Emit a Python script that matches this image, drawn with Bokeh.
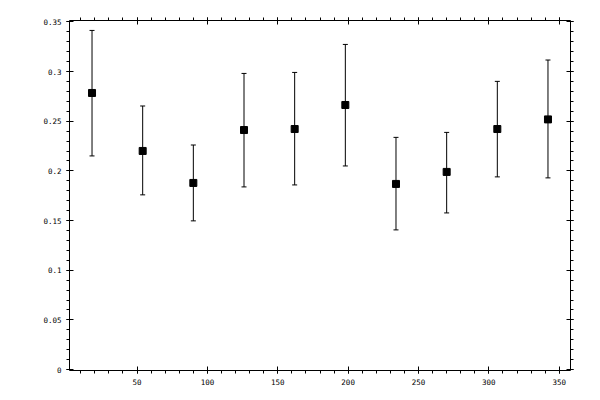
from bokeh.plotting import figure
from bokeh.models import (ColumnDataSource, Range1d, LinearAxis, SingleIntervalTicker,
                          CustomJSTickFormatter, Whisker, TeeHead)
from bokeh.embed import file_html
from bokeh.resources import INLINE

angle = [18, 54, 90, 126, 162, 198, 234, 270, 306, 342]
value = [0.2785, 0.2201, 0.1879, 0.2412, 0.2422, 0.2664, 0.1869, 0.1990, 0.2422, 0.2519]
upper = [0.3415, 0.2654, 0.2261, 0.2982, 0.2992, 0.3274, 0.2338, 0.2388, 0.2902, 0.3117]
lower = [0.2151, 0.1759, 0.1497, 0.1839, 0.1859, 0.2050, 0.1406, 0.1577, 0.1940, 0.1930]

src = ColumnDataSource(data=dict(x=angle, y=value, upper=upper, lower=lower))

p = figure(width=592, height=392, output_backend="svg", toolbar_location=None,
           x_range=Range1d(2, 358), y_range=Range1d(-0.001, 0.3515),
           min_border_left=69, min_border_right=22, min_border_top=20, min_border_bottom=22)
p.xgrid.visible = False
p.ygrid.visible = False
p.outline_line_color = None
p.background_fill_color = "white"
p.border_fill_color = "white"

label_fmt = CustomJSTickFormatter(code="return String(parseFloat(tick.toFixed(2)))")
blank_fmt = CustomJSTickFormatter(code="return ''")

p.add_layout(LinearAxis(), "above")
p.add_layout(LinearAxis(), "right")

for ax in p.xaxis:
    ax.ticker = SingleIntervalTicker(interval=50, num_minor_ticks=5)
for ax in p.yaxis:
    ax.ticker = SingleIntervalTicker(interval=0.05, num_minor_ticks=5)

for ax in p.axis:
    ax.axis_line_color = "black"
    ax.axis_line_width = 1
    ax.major_tick_line_color = "black"
    ax.minor_tick_line_color = "black"
    ax.major_tick_in = 4
    ax.major_tick_out = 3
    ax.minor_tick_in = 0
    ax.minor_tick_out = 3
    ax.major_label_text_font = "DejaVu Sans Mono"
    ax.major_label_text_font_size = "7.5px"
    ax.major_label_text_color = "black"
    ax.major_label_standoff = 5

p.below[0].formatter = label_fmt
p.left[0].formatter = label_fmt
p.above[0].formatter = blank_fmt
p.right[0].formatter = blank_fmt
p.above[0].major_label_standoff = 0
p.right[0].major_label_standoff = 0

p.add_layout(Whisker(source=src, base="x", upper="upper", lower="lower",
                     line_color="black", line_width=1,
                     upper_head=TeeHead(size=5, line_color="black", line_width=1),
                     lower_head=TeeHead(size=5, line_color="black", line_width=1)))
p.scatter("x", "y", source=src, marker="square", size=7, color="black")

open("out.html", "w").write(file_html(p, INLINE))
